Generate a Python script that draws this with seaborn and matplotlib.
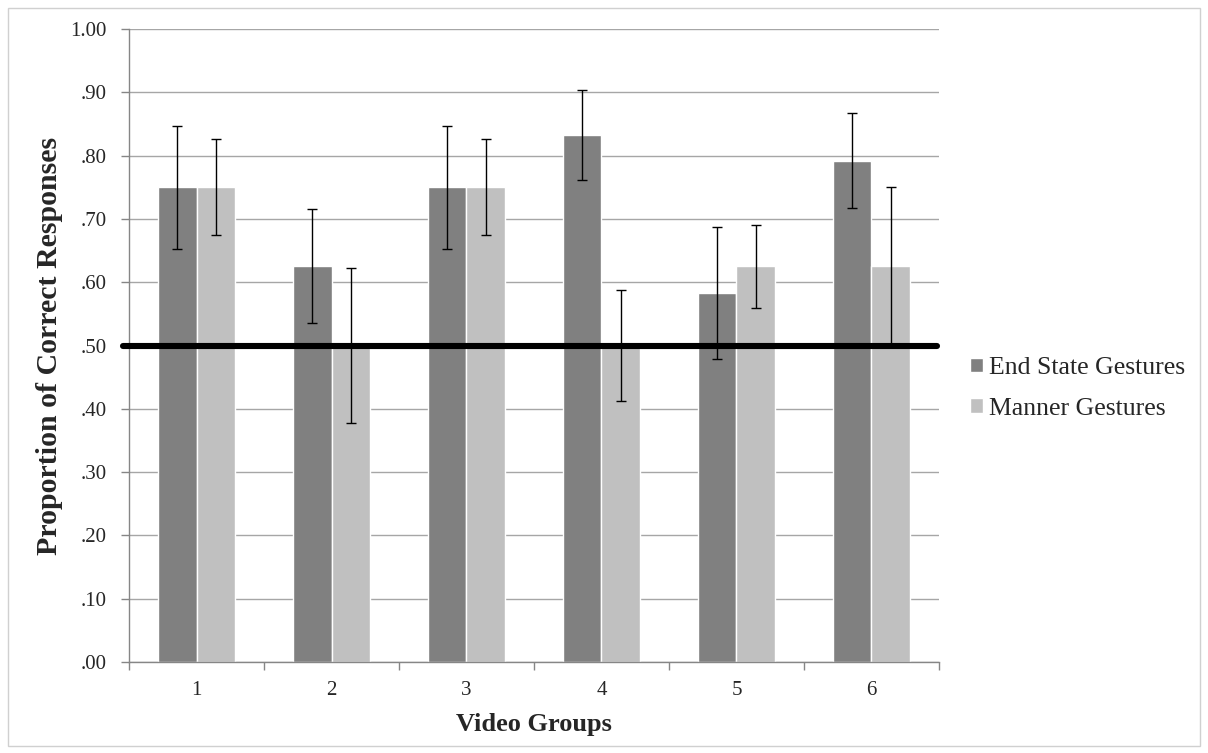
import numpy as np
import pandas as pd
import matplotlib
matplotlib.use("Agg")
import matplotlib.pyplot as plt
import seaborn as sns
from matplotlib.patches import Rectangle
from matplotlib.ticker import FixedLocator

# ---- data ----
groups = ["1", "2", "3", "4", "5", "6"]
series_names = ["End State Gestures", "Manner Gestures"]
end_state = [0.750, 0.625, 0.750, 0.833, 0.583, 0.792]
manner = [0.750, 0.500, 0.750, 0.500, 0.625, 0.625]
end_state_err = [0.097, 0.090, 0.097, 0.071, 0.104, 0.075]
manner_err = [0.076, 0.123, 0.076, 0.088, 0.065, 0.125]
chance_level = 0.50
y_ticks = [0.0, 0.1, 0.2, 0.3, 0.4, 0.5, 0.6, 0.7, 0.8, 0.9, 1.0]
y_tick_labels = [".00", ".10", ".20", ".30", ".40", ".50", ".60", ".70", ".80", ".90", "1.00"]
x_label = "Video Groups"
y_label = "Proportion of Correct Responses"

df = pd.DataFrame({
    "group": groups * 2,
    "series": [series_names[0]] * len(groups) + [series_names[1]] * len(groups),
    "value": end_state + manner,
})

sns.set_style("white")
plt.rcParams["font.family"] = ["Liberation Serif", "DejaVu Serif"]

fig = plt.figure(figsize=(12.08, 7.53), dpi=100)
ax = fig.add_axes([0.1068, 0.1208, 0.6705, 0.8407])

palette = {series_names[0]: "#808080", series_names[1]: "#C0C0C0"}
sns.barplot(data=df, x="group", y="value", hue="series", order=groups,
            hue_order=series_names, palette=palette, width=0.57, gap=0,
            errorbar=None, saturation=1, ax=ax, legend=True, zorder=2)

# error bars positioned from the drawn bars
for cont, errs in zip(ax.containers, [end_state_err, manner_err]):
    xs = [p.get_x() + p.get_width() / 2 for p in cont.patches]
    ys = [p.get_height() for p in cont.patches]
    ax.errorbar(xs, ys, yerr=errs, fmt="none", ecolor="black",
                elinewidth=1.0, capsize=3.3, capthick=1.0, zorder=5)

# chance line
ax.axhline(chance_level, xmin=-0.007, xmax=0.998, color="black", lw=4.4,
           solid_capstyle="round", clip_on=False, zorder=4)

ax.set_xlim(-0.5, len(groups) - 0.5)
ax.set_ylim(0, 1.0)
ax.set_yticks(y_ticks)
ax.set_yticklabels(y_tick_labels)
ax.yaxis.grid(True, color="#A6A6A6", lw=1.0)
ax.xaxis.grid(False)
ax.set_axisbelow(True)

ax.xaxis.set_minor_locator(FixedLocator(np.arange(-0.5, len(groups), 1.0)))
ax.tick_params(axis="x", which="major", length=0, labelsize=15, pad=14)
ax.tick_params(axis="x", which="minor", length=6, width=1, color="#868686", direction="out", bottom=True)
ax.tick_params(axis="y", which="major", length=6, width=1, color="#868686", direction="out", left=True,
               labelsize=15, pad=10)

for s in ["top", "right"]:
    ax.spines[s].set_visible(False)
for s in ["left", "bottom"]:
    ax.spines[s].set_color("#868686")
    ax.spines[s].set_linewidth(1.0)

ax.set_xlabel(x_label, fontsize=19, fontweight="bold", labelpad=9)
ax.set_ylabel(y_label, fontsize=21.5, fontweight="bold")
ax.yaxis.set_label_coords(-0.0815, 0.5)

# legend
handles, labels = ax.get_legend_handles_labels()
ax.legend_.remove()
fig.legend(handles, labels, loc="center left", bbox_to_anchor=(947 / 1208, 1 - 388.5 / 753),
           frameon=False, fontsize=18.5, handlelength=0.5, handleheight=0.5,
           handletextpad=0.25, labelspacing=0.72)

# outer frame
fig.patches.append(Rectangle((8 / 1208, 7 / 753), 1192 / 1208, 738 / 753, transform=fig.transFigure,
                             fill=False, edgecolor="#D0D0D0", lw=1.0))

fig.savefig("out.png", dpi=100)
